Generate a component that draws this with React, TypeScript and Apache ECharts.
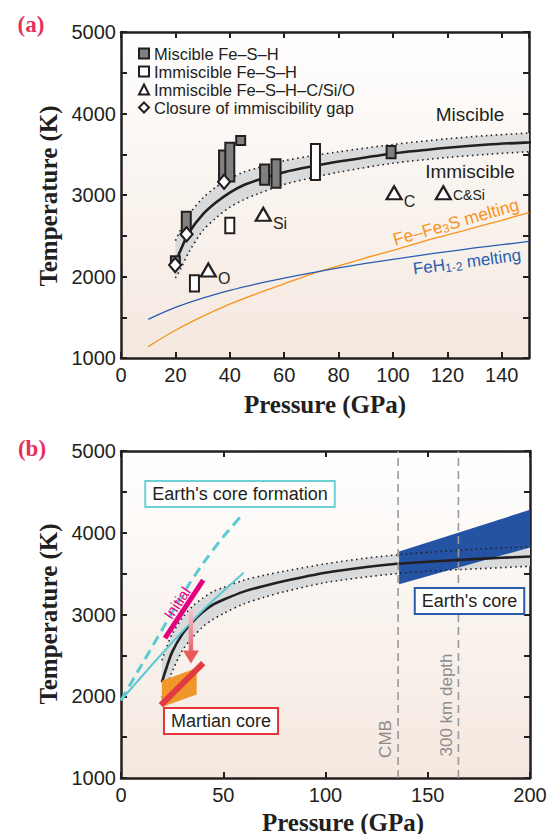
import React, { useEffect, useRef } from 'react';
import * as echarts from 'echarts';

// ---------- Miscibility boundary (both panels) ----------
const boundaryPressure = [20, 22, 25, 30, 35, 40, 45, 50, 60, 70, 80, 100, 120, 135, 150, 175, 200];
const boundaryTemperature = [2170, 2330, 2540, 2760, 2910, 3030, 3120, 3180, 3280, 3350, 3410, 3510, 3580, 3620, 3645, 3680, 3710];
const boundaryUpper = [2440, 2580, 2760, 2960, 3100, 3200, 3280, 3330, 3420, 3480, 3530, 3620, 3690, 3730, 3760, 3800, 3830];
const boundaryLower = [1980, 2100, 2300, 2560, 2720, 2850, 2940, 3010, 3130, 3210, 3280, 3390, 3460, 3500, 3530, 3560, 3590];

// ---------- Panel (a) experiments ----------
const misciblePressure = [20, 24, 37.7, 40, 44, 52.8, 57, 99.3];
const miscibleTmin = [2150, 2510, 3145, 3165, 3615, 3125, 3090, 3450];
const miscibleTmax = [2250, 2795, 3545, 3640, 3725, 3375, 3440, 3600];

const immisciblePressure = [27, 40, 71.5];
const immiscibleTmin = [1815, 2530, 3185];
const immiscibleTmax = [2015, 2720, 3625];

const trianglePressure = [32.1, 52.3, 100.4, 118.5];
const triangleTemperature = [2080, 2763, 3028, 3028];
const triangleLabels = ['O', 'Si', 'C', 'C&Si'];

const closurePressure = [19.9, 24.1, 37.9];
const closureTemperature = [2141, 2518, 3163];

// melting curves
const fe3sPressure = [10, 20, 30, 40, 50, 60, 70, 80, 90, 100, 110, 120, 130, 140, 150];
const fe3sTemperature = [1140, 1340, 1510, 1660, 1790, 1910, 2030, 2130, 2230, 2320, 2420, 2510, 2600, 2690, 2785];
const fehPressure = [10, 20, 30, 40, 50, 60, 70, 80, 90, 100, 110, 120, 130, 140, 150];
const fehTemperature = [1475, 1620, 1735, 1830, 1910, 1980, 2045, 2105, 2160, 2210, 2260, 2305, 2350, 2390, 2430];

// ---------- Panel (b) ----------
const coreFormationDashedP = [0, 10, 20, 30, 40, 50, 60];
const coreFormationDashedT = [1950, 2380, 2810, 3240, 3620, 3950, 4240];
const coreFormationSolidP = [0, 20, 40, 60];
const coreFormationSolidT = [1950, 2520, 3050, 3510];
const initialP = [21.5, 40.2];
const initialT = [2710, 3420];
const martianP = [20, 37, 37, 20];
const martianT = [2190, 2345, 2020, 1870];
const martianRedP = [19.5, 40.2];
const martianRedT = [1890, 2405];
const earthCoreP = [136, 200, 200, 136];
const earthCoreT = [3770, 4280, 3820, 3370];
const cmbPressure = 135.5;
const depth300Pressure = 165;
const arrowPressure = 34.2;
const arrowFromT = 3055;
const arrowToT = 2400;

const xTicksA = { min: 0, max: 150, interval: 20 };
const xTicksB = { min: 0, max: 200, interval: 50 };
const yTicks = { min: 1000, max: 5000, interval: 500 };

const SANS = '"Liberation Sans", Arial, Helvetica, sans-serif';
const SERIF = '"Liberation Serif", "Times New Roman", serif';
const INK = '#231f20';
const GRAY_FILL = '#808080';
const BAND = '#d9dadb';

function axis(gridIndex: number, t: any, position: string, labels: boolean, isY: boolean, hideMax = false) {
  return {
    type: 'value',
    gridIndex,
    min: t.min,
    max: t.max,
    interval: t.interval,
    position,
    axisLine: { show: true, onZero: false, lineStyle: { color: INK, width: 2.5 } },
    axisTick: { show: true, inside: true, length: 6, lineStyle: { color: INK, width: 2 } },
    axisLabel: labels
      ? {
          show: true,
          color: INK,
          fontFamily: SANS,
          fontSize: 20,
          margin: isY ? 5 : 7,
          showMaxLabel: !hideMax,
          formatter: isY ? (v: number) => (v % 1000 === 0 ? String(v) : '') : (v: number) => String(v),
        }
      : { show: false },
    splitLine: { show: false },
  };
}

function pairs(P: number[], T: number[]) {
  return P.map((p, i) => [p, T[i]]);
}

function lineSeries(idx: number, P: number[], T: number[], lineStyle: any, smooth: any = false, z = 3) {
  return {
    type: 'line',
    xAxisIndex: idx,
    yAxisIndex: idx,
    data: pairs(P, T),
    showSymbol: false,
    symbol: 'none',
    smooth,
    silent: true,
    clip: true,
    z,
    lineStyle,
  };
}

function polygonSeries(idx: number, P: number[], T: number[], fill: string, z = 2) {
  return {
    type: 'custom',
    xAxisIndex: idx,
    yAxisIndex: idx,
    clip: true,
    silent: true,
    z,
    data: [[P[0], T[0]]],
    renderItem: (params: any, api: any) => ({
      type: 'polygon',
      shape: { points: P.map((p, i) => api.coord([p, T[i]])) },
      style: { fill },
    }),
  };
}

function bandSeries(idx: number) {
  const P = boundaryPressure.concat(boundaryPressure.slice().reverse());
  const T = boundaryUpper.concat(boundaryLower.slice().reverse());
  return polygonSeries(idx, P, T, BAND, 2);
}

function rectSeries(name: string, P: number[], lo: number[], hi: number[], fill: string) {
  return {
    name,
    type: 'custom',
    xAxisIndex: 0,
    yAxisIndex: 0,
    clip: true,
    z: 5,
    itemStyle: { color: fill, borderColor: INK, borderWidth: 2 },
    data: P.map((p, i) => [p, lo[i], hi[i]]),
    encode: { x: 0, y: [1, 2] },
    renderItem: (params: any, api: any) => {
      const top = api.coord([api.value(0), api.value(2)]);
      const bot = api.coord([api.value(0), api.value(1)]);
      const w = 9;
      return {
        type: 'rect',
        shape: { x: top[0] - w / 2, y: top[1], width: w, height: bot[1] - top[1] },
        style: { fill, stroke: INK, lineWidth: 2 },
      };
    },
  };
}

function buildOption() {
  const bg = new echarts.graphic.LinearGradient(0, 0, 0, 1, [
    { offset: 0, color: '#ffffff' },
    { offset: 1, color: '#f4e8df' },
  ]);

  const series: any[] = [
    // ---- Panel a ----
    bandSeries(0),
    lineSeries(0, boundaryPressure, boundaryUpper, { color: INK, width: 1.6, type: [1.5, 3.5] }, 0.3),
    lineSeries(0, boundaryPressure, boundaryLower, { color: INK, width: 1.6, type: [1.5, 3.5] }, 0.3),
    lineSeries(0, boundaryPressure, boundaryTemperature, { color: INK, width: 2.6 }, 0.3),
    lineSeries(0, fe3sPressure, fe3sTemperature, { color: '#f7941d', width: 1.3 }, 0.3),
    lineSeries(0, fehPressure, fehTemperature, { color: '#2a5db0', width: 1.3 }, 0.3),
    rectSeries('Miscible Fe–S–H', misciblePressure, miscibleTmin, miscibleTmax, GRAY_FILL),
    rectSeries('Immiscible Fe–S–H', immisciblePressure, immiscibleTmin, immiscibleTmax, '#ffffff'),
    {
      name: 'Immiscible Fe–S–H–C/Si/O',
      type: 'scatter',
      xAxisIndex: 0,
      yAxisIndex: 0,
      symbol: 'triangle',
      symbolSize: [15, 13],
      z: 6,
      itemStyle: { color: '#ffffff', borderColor: INK, borderWidth: 2.2, opacity: 1 },
      data: trianglePressure.map((p, i) => ({
        value: [p, triangleTemperature[i]],
        name: triangleLabels[i],
        label: {
          show: true,
          position: 'right',
          distance: 1,
          formatter: '{b}',
          color: INK,
          fontFamily: SANS,
          fontSize: triangleLabels[i].length > 2 ? 14 : 16,
          offset: triangleLabels[i].length > 2 ? [0, 2] : [0, 9],
        },
      })),
    },
    {
      name: 'Closure of immiscibility gap',
      type: 'scatter',
      xAxisIndex: 0,
      yAxisIndex: 0,
      symbol: 'diamond',
      symbolSize: [12, 14],
      z: 7,
      itemStyle: { color: '#ffffff', borderColor: INK, borderWidth: 2.2, opacity: 1 },
      data: pairs(closurePressure, closureTemperature),
    },

    // ---- Panel b ----
    bandSeries(1),
    polygonSeries(1, earthCoreP, earthCoreT, '#2453a3', 3),
    lineSeries(1, boundaryPressure, boundaryUpper, { color: INK, width: 1.6, type: [1.5, 3.5] }, 0.3, 4),
    lineSeries(1, boundaryPressure, boundaryLower, { color: INK, width: 1.6, type: [1.5, 3.5] }, 0.3, 4),
    lineSeries(1, boundaryPressure, boundaryTemperature, { color: INK, width: 2.6 }, 0.3, 4),
    lineSeries(1, [cmbPressure, cmbPressure], [1000, 5000], { color: '#9a9a9a', width: 1.6, type: [8, 5] }, false, 5),
    lineSeries(1, [depth300Pressure, depth300Pressure], [1000, 5000], { color: '#9a9a9a', width: 1.6, type: [8, 5] }, false, 5),
    lineSeries(1, coreFormationDashedP, coreFormationDashedT, { color: '#5ccad3', width: 3, type: [10, 6] }, 0.3, 5),
    lineSeries(1, coreFormationSolidP, coreFormationSolidT, { color: '#5ccad3', width: 2 }, 0.3, 5),
    lineSeries(1, initialP, initialT, { color: '#e6007e', width: 5 }, false, 6),
    polygonSeries(1, martianP, martianT, '#f0962a', 6),
    lineSeries(1, martianRedP, martianRedT, { color: '#e23a40', width: 6 }, false, 7),
    {
      type: 'custom',
      xAxisIndex: 1,
      yAxisIndex: 1,
      silent: true,
      z: 8,
      data: [[arrowPressure, arrowFromT, arrowToT]],
      encode: { x: 0, y: [1, 2] },
      renderItem: (params: any, api: any) => {
        const from = api.coord([api.value(0), api.value(1)]);
        const to = api.coord([api.value(0), api.value(2)]);
        const head = 13;
        const hw = 8;
        const sw = 4.5;
        return {
          type: 'group',
          children: [
            {
              type: 'rect',
              shape: { x: from[0] - sw / 2, y: from[1], width: sw, height: to[1] - head - from[1] + 1 },
              style: {
                fill: new echarts.graphic.LinearGradient(0, 0, 0, 1, [
                  { offset: 0, color: '#f7c3cf' },
                  { offset: 1, color: '#ea5f6a' },
                ]),
              },
            },
            {
              type: 'polygon',
              shape: {
                points: [
                  [to[0] - hw, to[1] - head],
                  [to[0] + hw, to[1] - head],
                  [to[0], to[1]],
                ],
              },
              style: { fill: '#e95a5e' },
            },
          ],
        };
      },
    },
  ];

  const T = (props: any) => ({ type: 'text', z: 100, ...props });

  const graphic: any[] = [
    T({ x: 31, y: 24, style: { text: '(a)', fill: '#e5305a', font: `bold 23px ${SERIF}`, align: 'center', verticalAlign: 'middle' } }),
    T({ x: 32, y: 448, style: { text: '(b)', fill: '#e5305a', font: `bold 23px ${SERIF}`, align: 'center', verticalAlign: 'middle' } }),
    T({ x: 48, y: 196, rotation: Math.PI / 2, style: { text: 'Temperature (K)', fill: INK, font: `bold 25px ${SERIF}`, align: 'center', verticalAlign: 'middle' } }),
    T({ x: 48, y: 614, rotation: Math.PI / 2, style: { text: 'Temperature (K)', fill: INK, font: `bold 25px ${SERIF}`, align: 'center', verticalAlign: 'middle' } }),
    T({ x: 325, y: 404, style: { text: 'Pressure (GPa)', fill: INK, font: `bold 25px ${SERIF}`, align: 'center', verticalAlign: 'middle' } }),
    T({ x: 343, y: 822, style: { text: 'Pressure (GPa)', fill: INK, font: `bold 25px ${SERIF}`, align: 'center', verticalAlign: 'middle' } }),
    T({ x: 470, y: 114, style: { text: 'Miscible', fill: INK, font: `19px ${SANS}`, align: 'center', verticalAlign: 'middle' } }),
    T({ x: 470, y: 171, style: { text: 'Immiscible', fill: INK, font: `19px ${SANS}`, align: 'center', verticalAlign: 'middle' } }),
    T({
      x: 456,
      y: 222,
      rotation: (16 * Math.PI) / 180,
      style: {
        text: '{a|Fe–Fe}{s|3}{a|S melting}',
        align: 'center',
        verticalAlign: 'middle',
        rich: {
          a: { fill: '#f7941d', fontFamily: SANS, fontSize: 17.5, lineHeight: 19 },
          s: { fill: '#f7941d', fontFamily: SANS, fontSize: 12, lineHeight: 12, verticalAlign: 'bottom' },
        },
      },
    }),
    T({
      x: 467,
      y: 262,
      rotation: (7.5 * Math.PI) / 180,
      style: {
        text: '{a|FeH}{s|1-2}{a| melting}',
        align: 'center',
        verticalAlign: 'middle',
        rich: {
          a: { fill: '#2a5db0', fontFamily: SANS, fontSize: 17, lineHeight: 19 },
          s: { fill: '#2a5db0', fontFamily: SANS, fontSize: 12, lineHeight: 12, verticalAlign: 'bottom' },
        },
      },
    }),
    T({
      x: 240,
      y: 494,
      style: {
        text: "Earth's core formation",
        fill: INK,
        font: `18px ${SANS}`,
        align: 'center',
        verticalAlign: 'middle',
        backgroundColor: '#ffffff',
        borderColor: '#6fcfd6',
        borderWidth: 2,
        padding: [3, 6, 2, 6],
        lineHeight: 19,
      },
    }),
    T({
      x: 469.5,
      y: 601,
      style: {
        text: "Earth's core",
        fill: INK,
        font: `18px ${SANS}`,
        align: 'center',
        verticalAlign: 'middle',
        backgroundColor: '#ffffff',
        borderColor: '#2a5aa8',
        borderWidth: 2,
        padding: [3, 6, 2, 6],
        lineHeight: 19,
      },
    }),
    T({
      x: 221,
      y: 721,
      style: {
        text: 'Martian core',
        fill: INK,
        font: `18px ${SANS}`,
        align: 'center',
        verticalAlign: 'middle',
        backgroundColor: '#ffffff',
        borderColor: '#e8333a',
        borderWidth: 2,
        padding: [3, 6, 2, 6],
        lineHeight: 19,
      },
    }),
    T({ x: 385, y: 739, rotation: Math.PI / 2, style: { text: 'CMB', fill: '#8c8c8c', font: `17px ${SANS}`, align: 'center', verticalAlign: 'middle' } }),
    T({ x: 446, y: 705, rotation: Math.PI / 2, style: { text: '300 km depth', fill: '#8c8c8c', font: `17px ${SANS}`, align: 'center', verticalAlign: 'middle' } }),
    T({ x: 177, y: 603, rotation: (56 * Math.PI) / 180, style: { text: 'Initial', fill: '#e6007e', font: `15px ${SANS}`, align: 'center', verticalAlign: 'middle' } }),
  ];

  return {
    animation: false,
    grid: [
      { left: 121, top: 32, width: 408, height: 326, show: true, backgroundColor: bg, borderWidth: 0 },
      { left: 121, top: 451, width: 409, height: 327, show: true, backgroundColor: bg, borderWidth: 0 },
    ],
    xAxis: [
      axis(0, xTicksA, 'bottom', true, false, true),
      axis(1, xTicksB, 'bottom', true, false),
      axis(0, xTicksA, 'top', false, false),
      axis(1, xTicksB, 'top', false, false),
    ],
    yAxis: [
      axis(0, yTicks, 'left', true, true),
      axis(1, yTicks, 'left', true, true),
      axis(0, yTicks, 'right', false, true),
      axis(1, yTicks, 'right', false, true),
    ],
    legend: {
      show: true,
      orient: 'vertical',
      left: 133,
      top: 40,
      itemWidth: 10,
      itemHeight: 10,
      itemGap: 1,
      selectedMode: false,
      textStyle: { color: INK, fontFamily: SANS, fontSize: 16.5, lineHeight: 17 },
      data: [
        { name: 'Miscible Fe–S–H', icon: 'rect', itemStyle: { color: GRAY_FILL, borderColor: INK, borderWidth: 2 } },
        { name: 'Immiscible Fe–S–H', icon: 'rect', itemStyle: { color: '#ffffff', borderColor: INK, borderWidth: 2 } },
        { name: 'Immiscible Fe–S–H–C/Si/O', icon: 'triangle', itemStyle: { color: '#ffffff', borderColor: INK, borderWidth: 2 } },
        { name: 'Closure of immiscibility gap', icon: 'diamond', itemStyle: { color: '#ffffff', borderColor: INK, borderWidth: 2 } },
      ],
    },
    series,
    graphic,
  };
}

export default function App() {
  const ref = useRef<HTMLDivElement>(null);
  useEffect(() => {
    document.body.style.margin = '0';
    const chart = echarts.init(ref.current as HTMLDivElement, undefined, { renderer: 'svg' });
    chart.setOption(buildOption() as any);
    return () => chart.dispose();
  }, []);
  return <div ref={ref} style={{ width: 554, height: 834 }} />;
}
